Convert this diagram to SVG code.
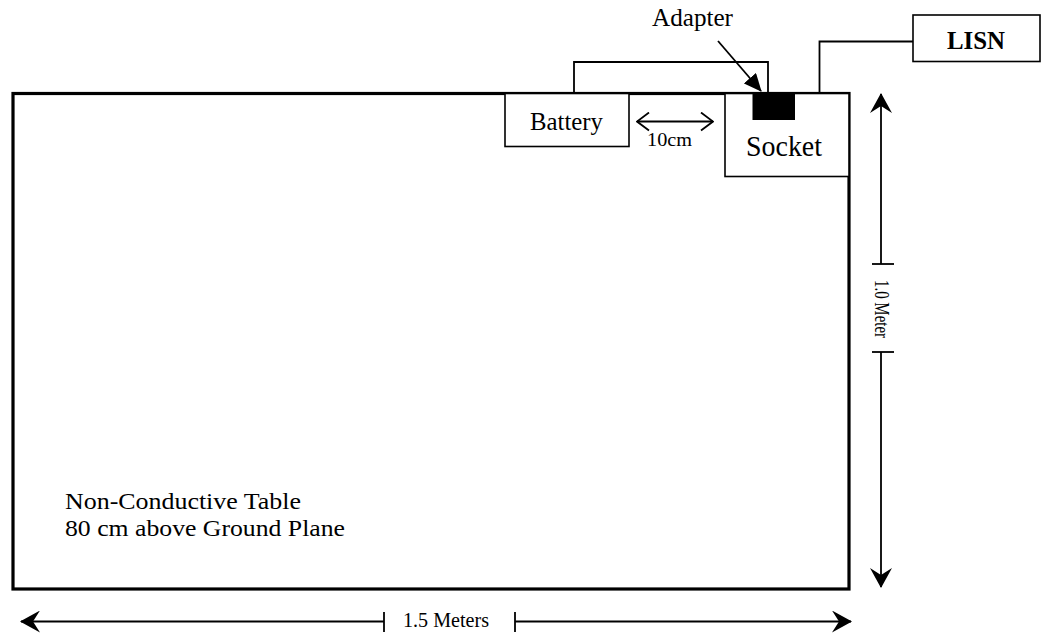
<svg xmlns="http://www.w3.org/2000/svg" width="1048" height="635" viewBox="0 0 1048 635">
<style>
  text { font-family: "Liberation Serif", "Times New Roman", serif; fill: #000; }
  .box { fill: #fff; stroke: #000; stroke-width: 1.6; }
  .wire { fill: none; stroke: #000; stroke-width: 1.8; }
  .dim { fill: none; stroke: #000; stroke-width: 1.8; }
</style>
<defs>
  <marker id="dimHead" markerUnits="userSpaceOnUse" viewBox="0 0 20 22" refX="19" refY="11" markerWidth="20" markerHeight="22" orient="auto-start-reverse">
    <path d="M0,0 L20,11 L0,22 L7,11 Z" fill="#000"/>
  </marker>
  <marker id="openHead" markerUnits="userSpaceOnUse" viewBox="0 0 14 20" refX="13" refY="10" markerWidth="14" markerHeight="20" orient="auto-start-reverse">
    <path d="M1,1 L13,10 L1,19" fill="none" stroke="#000" stroke-width="1.8"/>
  </marker>
  <marker id="fillHead" markerUnits="userSpaceOnUse" viewBox="0 0 18 16" refX="17" refY="8" markerWidth="18" markerHeight="16" orient="auto">
    <path d="M0,0 L18,8 L0,16 Z" fill="#000"/>
  </marker>
</defs>

<g id="table">
  <rect x="13" y="93.5" width="836" height="495.5" fill="#fff" stroke="#000" stroke-width="3.2"/>
  <text x="65" y="509" font-size="24" textLength="236" lengthAdjust="spacingAndGlyphs">Non-Conductive Table</text>
  <text x="65" y="536" font-size="24" textLength="280" lengthAdjust="spacingAndGlyphs">80 cm above Ground Plane</text>
</g>

<g id="connectors">
  <polyline class="wire" points="574,93 574,62 768,62 768,93"/>
  <polyline class="wire" points="819.5,93 819.5,41.5 913,41.5"/>
  <line x1="718" y1="41" x2="761" y2="91" stroke="#000" stroke-width="1.8" marker-end="url(#fillHead)"/>
  <line x1="637" y1="121.5" x2="713" y2="121.5" stroke="#000" stroke-width="1.8" marker-start="url(#openHead)" marker-end="url(#openHead)"/>
</g>

<g id="battery">
  <rect class="box" x="505" y="93.5" width="124" height="53"/>
  <text x="530" y="130" font-size="25" textLength="73" lengthAdjust="spacingAndGlyphs">Battery</text>
</g>

<g id="distance-label">
  <text x="647" y="146" font-size="19" textLength="45" lengthAdjust="spacingAndGlyphs">10cm</text>
</g>

<g id="socket">
  <rect class="box" x="725" y="93.5" width="124" height="83"/>
  <text x="746" y="156" font-size="29" textLength="76" lengthAdjust="spacingAndGlyphs">Socket</text>
</g>

<g id="adapter">
  <rect x="752.5" y="94" width="42.5" height="26" fill="#000"/>
  <text x="652" y="26" font-size="25" textLength="81" lengthAdjust="spacingAndGlyphs">Adapter</text>
</g>

<g id="lisn">
  <rect class="box" x="913" y="15" width="127" height="46.5"/>
  <text x="976" y="49" font-size="25" font-weight="bold" text-anchor="middle" textLength="58" lengthAdjust="spacingAndGlyphs">LISN</text>
</g>

<g id="dimension-height">
  <line class="dim" x1="881" y1="264" x2="881" y2="94" marker-end="url(#dimHead)"/>
  <line class="dim" x1="881" y1="352" x2="881" y2="587" marker-end="url(#dimHead)"/>
  <line class="dim" x1="872" y1="264" x2="894" y2="264"/>
  <line class="dim" x1="872" y1="352" x2="894" y2="352"/>
  <text transform="translate(875,309) rotate(90)" x="0" y="0" font-size="20" text-anchor="middle" textLength="58" lengthAdjust="spacingAndGlyphs">1.0 Meter</text>
</g>

<g id="dimension-width">
  <line class="dim" x1="384" y1="621.5" x2="21" y2="621.5" marker-end="url(#dimHead)"/>
  <line class="dim" x1="515" y1="621.5" x2="851" y2="621.5" marker-end="url(#dimHead)"/>
  <line class="dim" x1="384" y1="612" x2="384" y2="632"/>
  <line class="dim" x1="515" y1="612" x2="515" y2="632"/>
  <text x="403" y="627" font-size="20" textLength="86" lengthAdjust="spacingAndGlyphs">1.5 Meters</text>
</g>
</svg>
